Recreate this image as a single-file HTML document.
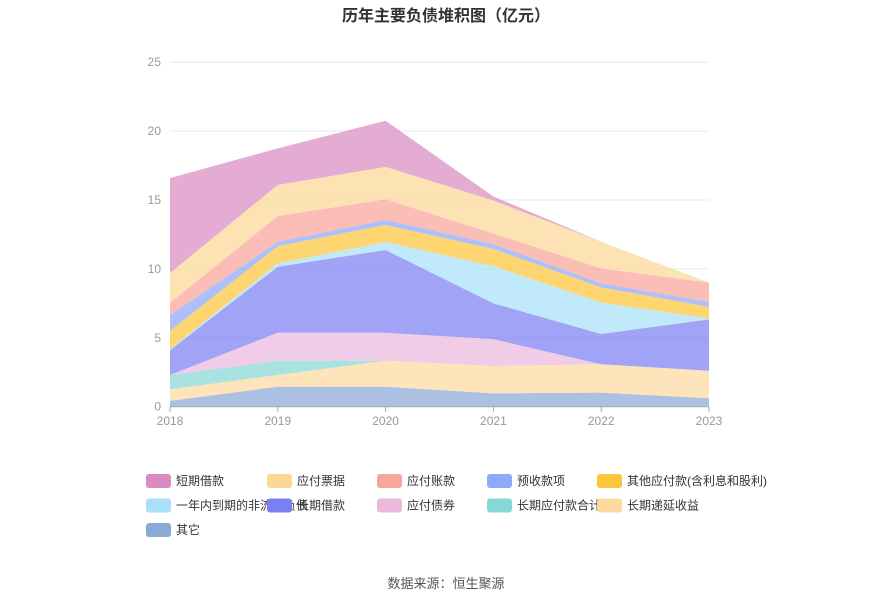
<!DOCTYPE html>
<html><head><meta charset="utf-8"><style>
body{margin:0;background:#fff;font-family:"Liberation Sans","Noto Sans CJK SC",sans-serif;}
svg text{font-family:"Liberation Sans","Noto Sans CJK SC",sans-serif;}
</style></head><body>
<svg id="chart" width="893" height="603" xmlns="http://www.w3.org/2000/svg">
<text x="446" y="21" text-anchor="middle" font-size="16" font-weight="bold" fill="#333">历年主要负债堆积图（亿元）</text>
<g id="grid"></g><g id="areas"></g><g id="axes"></g><g id="legend"></g>
<text x="446" y="588" text-anchor="middle" font-size="13" fill="#555">数据来源：恒生聚源</text>
</svg>
<script>
const years=["2018","2019","2020","2021","2022","2023"];
const yTicks=[0,5,10,15,20,25];
const names=["其它","长期递延收益","长期应付款合计","应付债券","长期借款","一年内到期的非流动负债","其他应付款(含利息和股利)","预收款项","应付账款","应付票据","短期借款"];
const sOther=[0.42,1.45,1.45,0.97,1.02,0.61];
const sDefer=[0.84,0.85,1.89,1.98,2.06,2.0];
const sLtPay=[1.04,1.04,0,0,0,0];
const sBond=[0,2.03,2.03,1.95,0,0];
const sLtLoan=[1.8,4.79,6.0,2.6,2.2,3.73];
const sCurLt=[0.1,0.24,0.58,2.7,2.27,0.08];
const sOtherPay=[1.3,1.26,1.24,1.25,1.11,0.82];
const sAdv=[1.15,0.31,0.36,0.35,0.29,0.36];
const sAP=[0.9,1.87,1.5,0.77,1.09,1.4];
const sNotes=[2.15,2.26,2.35,2.39,1.93,0];
const sShort=[6.9,2.65,3.35,0.29,0,0];
const series=[sOther,sDefer,sLtPay,sBond,sLtLoan,sCurLt,sOtherPay,sAdv,sAP,sNotes,sShort];
const colors=["#8aa8d8","#fdd9a0","#86d8d6","#ecb8dc","#7b7ff2","#a8e0f8","#fcc63a","#8ea8fa","#f8a59a","#fcd896","#d98bc2"];
const keys=["other","deferred-income","lt-payables","bonds","lt-loans","current-lt-liab","other-payables","advances","accounts-payable","notes-payable","short-loans"];
const NS="http://www.w3.org/2000/svg";
const x=i=>170+i*(709-170)/(years.length-1);
const y=v=>406.7-v*13.78;
function mk(t,a,p){const e=document.createElementNS(NS,t);for(const k in a)e.setAttribute(k,a[k]);p.appendChild(e);return e;}
const grid=document.getElementById('grid'),axes=document.getElementById('axes'),areas=document.getElementById('areas'),legend=document.getElementById('legend');
yTicks.forEach(t=>{
 if(t>0){const l=mk('line',{x1:170,x2:709,y1:y(t),y2:y(t),stroke:'#e6e9f0'},grid);
 
 }
 const tx=mk('text',{x:161,y:y(t)+4,'text-anchor':'end','font-size':12,fill:'#999'},axes);tx.textContent=t;
 
 
});
let base=years.map(()=>0);
series.forEach((s,k)=>{
 const top=base.map((b,i)=>b+s[i]);
 let d='M'+top.map((v,i)=>x(i)+','+y(v)).join('L');
 for(let i=years.length-1;i>=0;i--)d+='L'+x(i)+','+y(base[i]);
 const p=mk('path',{d:d+'Z',fill:colors[k],'fill-opacity':0.72},areas);
 
 
 base=top;
});
const ax=mk('line',{x1:170,x2:709,y1:y(0),y2:y(0),stroke:'#a0a8b8'},axes);


years.forEach((yr,i)=>{
 mk('line',{x1:x(i),x2:x(i),y1:y(0),y2:y(0)+5,stroke:'#a0a8b8'},axes);
 const t=mk('text',{x:x(i),y:425,'text-anchor':'middle','font-size':12,fill:'#999'},axes);t.textContent=yr;
 
 
});
const legendOrder=[10,9,8,7,6,5,4,3,2,1,0];
const lx=[146,267,377,487,597];
legendOrder.forEach((k,j)=>{
 const r=Math.floor(j/5),c=j%5;
 const g=mk('g',{},legend);
 
 
 mk('rect',{x:lx[c],y:474+r*24.5,width:25,height:14,rx:3,fill:colors[k]},g);
 const t=mk('text',{x:lx[c]+30,y:485+r*24.5,'font-size':12,fill:'#333'},g);t.textContent=names[k];
});
</script>
</body></html>
